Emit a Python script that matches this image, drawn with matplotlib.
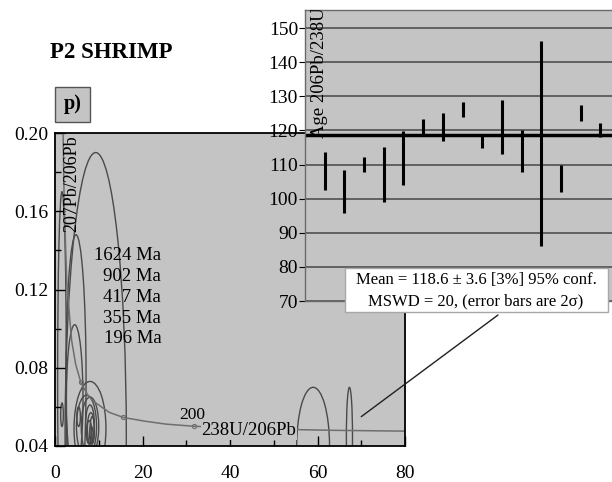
import matplotlib
matplotlib.use("Agg")
import matplotlib.pyplot as plt
from matplotlib.patches import Ellipse, Rectangle
from matplotlib.ticker import MultipleLocator, FormatStrFormatter

plt.rcParams['font.family'] = ['Liberation Serif', 'DejaVu Serif']

# concordia (238U/206Pb vs 207Pb/206Pb)
cc_x = [1.7, 2.1, 2.7, 3.3, 3.8, 4.7, 5.9, 7.5, 8.7, 12.4, 15.6, 20.5, 25.3, 31.7, 39.8, 49.9, 64.0, 80.1]
cc_y = [0.222, 0.164, 0.123, 0.107, 0.094, 0.082, 0.0725, 0.066, 0.063, 0.0572, 0.0546, 0.0527,
        0.0512, 0.0501, 0.0493, 0.0486, 0.0480, 0.0476]
cc_mark_x = [5.9, 15.6, 31.7]
cc_mark_y = [0.0725, 0.0546, 0.0501]

# error ellipses: centre x, centre y, width, height
ell_x = [9.3, 4.8, 1.6, 4.5, 8.0, 7.2, 8.0, 8.2, 7.8, 8.5, 8.0, 8.3, 5.4, 1.6, 59.0, 67.3]
ell_y = [0.045, 0.075, 0.075, 0.064, 0.049, 0.050, 0.050, 0.049, 0.047, 0.048, 0.051, 0.046,
         0.055, 0.056, 0.040, 0.045]
ell_w = [14.0, 4.6, 2.0, 3.8, 7.3, 4.6, 4.0, 1.6, 1.2, 1.0, 2.0, 0.8, 0.8, 0.6, 7.5, 1.4]
ell_h = [0.29, 0.146, 0.19, 0.076, 0.048, 0.032, 0.030, 0.016, 0.012, 0.014, 0.020, 0.008,
         0.010, 0.012, 0.060, 0.050]

age_labels = ["1624 Ma", "902 Ma", "417 Ma", "355 Ma", "196 Ma"]

# inset: 206Pb/238U ages, 2 sigma error bars
spot = list(range(1, 16))
age_lo = [102.6, 95.9, 107.8, 99.0, 104.1, 118.9, 117.0, 123.8, 114.8, 113.1, 107.8, 86.2, 101.9, 122.8, 118.2]
age_hi = [113.8, 108.3, 112.1, 115.2, 119.9, 123.3, 125.0, 128.2, 118.9, 128.9, 120.2, 146.1, 110.0, 127.4, 122.1]
mean_age = 118.6

W, H = 612, 482
fig = plt.figure(figsize=(W / 100, H / 100), dpi=100)
bg = '#c4c4c4'

def fx(px):
    return px / W

def fy(py):
    return 1 - py / H

# main Tera-Wasserburg plot
ax = fig.add_axes([fx(55), fy(446), fx(405) - fx(55), fy(133) - fy(446)])
ax.set_facecolor(bg)
ax.set_xlim(0, 80)
ax.set_ylim(0.04, 0.20)
for i in range(len(ell_x)):
    e = Ellipse((ell_x[i], ell_y[i]), ell_w[i], ell_h[i], fill=False,
                edgecolor='#4a4a4a', lw=1.0)
    ax.add_patch(e)
ax.plot(cc_x, cc_y, color='#6e6e6e', lw=1.1)
ax.plot(cc_mark_x, cc_mark_y, 'o', ms=3, mfc='none', mec='#6e6e6e', mew=0.8)
ax.text(31.4, 0.0556, "200", fontsize=12.5, ha='center', va='center')
ax.text(55.2, 0.0477, "238U/206Pb", fontsize=13.5, ha='right', va='center',
        bbox=dict(facecolor=bg, edgecolor='none', pad=0.5))
ax.text(3.9, 0.199, "207Pb/206Pb", fontsize=13, rotation=90, ha='center', va='top')
for i, lab in enumerate(age_labels):
    ax.text(24.3, 0.1375 - i * 0.0107, lab, fontsize=13.5, ha='right', va='center')

ax.xaxis.set_major_locator(MultipleLocator(20))
ax.xaxis.set_minor_locator(MultipleLocator(10))
ax.yaxis.set_major_locator(MultipleLocator(0.04))
ax.yaxis.set_minor_locator(MultipleLocator(0.02))
ax.yaxis.set_major_formatter(FormatStrFormatter('%.2f'))
ax.tick_params(which='both', direction='in', top=False, right=False, labelsize=14)
ax.tick_params(which='major', length=7, width=1)
ax.tick_params(which='minor', length=4, width=1)
ax.tick_params(axis='x', pad=14)
ax.tick_params(axis='y', pad=5)
for s in ax.spines.values():
    s.set_linewidth(1.3)
    s.set_color('black')

# inset weighted-mean plot
ax2 = fig.add_axes([fx(305), fy(301), fx(630) - fx(305), fy(10) - fy(301)])
ax2.set_facecolor(bg)
ax2.set_xlim(0, 16.5)
ax2.set_ylim(70, 155.3)
ax2.yaxis.set_major_locator(MultipleLocator(10))
ax2.set_xticks([])
ax2.grid(axis='y', color='#505050', lw=1.2)
ax2.set_axisbelow(True)
ax2.vlines(spot, age_lo, age_hi, color='black', lw=2.2)
ax2.axhline(mean_age, color='black', lw=2.5)
ax2.tick_params(axis='y', direction='out', length=4, labelsize=14, pad=1)
for s in ax2.spines.values():
    s.set_color('#6a6a6a')
    s.set_linewidth(1.0)
ax2.text(0.046, 0.56, "Age 206Pb/238U", transform=ax2.transAxes, fontsize=13.5,
         rotation=90, ha='center', va='bottom', clip_on=True)

# mean box and leader line
fig.patches.append(Rectangle((fx(345), fy(312)), fx(608) - fx(345), fy(268) - fy(312),
                             transform=fig.transFigure, facecolor='white',
                             edgecolor='#a8a8a8', lw=1.0))
fig.text(fx(476), fy(280), "Mean = 118.6 \u00b1 3.6 [3%] 95% conf.", fontsize=12,
         ha='center', va='center')
fig.text(fx(476), fy(301), "MSWD = 20, (error bars are 2\u03c3)", fontsize=12,
         ha='center', va='center')
ax.annotate('', xy=(70, 0.055), xytext=(fx(498), fy(315)), textcoords='figure fraction',
            arrowprops=dict(arrowstyle='-', lw=1.0, color='#202020',
                            shrinkA=0, shrinkB=0), annotation_clip=False)

# titles
fig.text(fx(50), fy(52), "P2 SHRIMP", fontsize=16.5, fontweight='bold', ha='left', va='center')
fig.patches.append(Rectangle((fx(55), fy(122)), fx(90) - fx(55), fy(87) - fy(122),
                             transform=fig.transFigure, facecolor=bg,
                             edgecolor='#555555', lw=1.0))
fig.text(fx(72.5), fy(104), "p)", fontsize=14.5, fontweight='bold', ha='center', va='center')

fig.savefig("out.png", dpi=100)
